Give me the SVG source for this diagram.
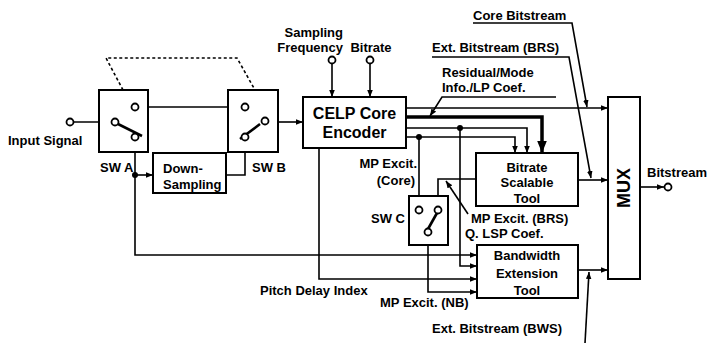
<svg xmlns="http://www.w3.org/2000/svg" width="707" height="343" viewBox="0 0 707 343">
<style>
text{font-family:"Liberation Sans",Arial,sans-serif;font-weight:bold;font-size:13px;fill:#000}
.box{fill:#fff;stroke:#000;stroke-width:2}
.ln{fill:none;stroke:#000;stroke-width:1.6}
.thick{fill:none;stroke:#000;stroke-width:3.5}
.blade{fill:none;stroke:#000;stroke-width:2.6}
.ct{fill:#fff;stroke:#000;stroke-width:1.8}
.dot{fill:#000}
.mid{text-anchor:middle}
.end{text-anchor:end}
</style>
<defs>
<marker id="ah" viewBox="0 0 10 8" refX="10" refY="4" markerWidth="7" markerHeight="6" orient="auto" markerUnits="userSpaceOnUse"><path d="M0,0 L10,4 L0,8 z"/></marker>
<marker id="big" viewBox="0 0 10 8" refX="10" refY="4" markerWidth="12" markerHeight="11" orient="auto" markerUnits="userSpaceOnUse"><path d="M0,0 L10,4 L0,8 z"/></marker>
</defs>

<g id="connectors">
<polyline class="ln" points="123,90 106,58 237,58 255,90" stroke-dasharray="3,2.5" stroke-width="2"/>
<line class="ln" x1="73.5" y1="122" x2="111" y2="122" marker-end="url(#ah)"/>
<line class="ln" x1="138.5" y1="107" x2="241" y2="107" marker-end="url(#ah)"/>
<polyline class="ln" points="135,140.5 135,255 477,255" marker-end="url(#ah)"/>
<line class="ln" x1="135" y1="175" x2="153" y2="175" marker-end="url(#ah)"/>
<polyline class="ln" points="226,175 245,175 245,141" marker-end="url(#ah)"/>
<line class="ln" x1="278" y1="122" x2="303" y2="122" marker-end="url(#ah)"/>
<line class="ln" x1="332" y1="63.5" x2="332" y2="97" marker-end="url(#ah)"/>
<line class="ln" x1="370" y1="63.5" x2="370" y2="97" marker-end="url(#ah)"/>
<line class="ln" x1="406" y1="108" x2="608" y2="108" marker-end="url(#ah)"/>
<polyline class="thick" points="406,117 542,117 542,153" marker-end="url(#big)"/>
<polyline class="ln" points="406,128 527,128 527,153" marker-end="url(#ah)"/>
<polyline class="ln" points="406,137 515,137 515,153" marker-end="url(#ah)"/>
<polyline class="ln" points="460,128 460,266 477,266" marker-end="url(#ah)"/>
<line class="ln" x1="419" y1="137" x2="419" y2="206" marker-end="url(#ah)"/>
<polyline class="ln" points="476,179 438,179 438,206" marker-end="url(#ah)"/>
<polyline class="ln" points="428,235.5 428,292 477,292" marker-end="url(#ah)"/>
<polyline class="ln" points="319,148 319,279 477,279" marker-end="url(#ah)"/>
<line class="ln" x1="578" y1="180" x2="608" y2="180" marker-end="url(#ah)"/>
<line class="ln" x1="578" y1="270" x2="608" y2="270" marker-end="url(#ah)"/>
<line class="ln" x1="640" y1="187" x2="664" y2="187" marker-end="url(#ah)"/>
<polyline class="ln" points="473,23 572,23 587,107" marker-end="url(#ah)"/>
<polyline class="ln" points="432,57 569,57 591,178" marker-end="url(#ah)"/>
<polyline class="ln" points="556,97 442,97 430,116" marker-end="url(#ah)"/>
<line class="ln" x1="468" y1="214" x2="446" y2="181" marker-end="url(#ah)"/>
<line class="ln" x1="585" y1="343" x2="589" y2="272" marker-end="url(#ah)"/>
<circle class="dot" cx="135" cy="175" r="3"/>
<circle class="dot" cx="460" cy="128" r="3"/>
<circle class="dot" cx="419" cy="137" r="3"/>
</g>

<g id="input">
<circle class="ct" cx="70" cy="122" r="3.5"/>
<text x="8" y="145">Input Signal</text>
</g>

<g id="swA">
<rect class="box" x="99" y="90" width="49" height="62"/>
<line class="blade" x1="118" y1="124" x2="142" y2="136"/>
<circle class="ct" cx="115" cy="122" r="3.5"/>
<circle class="ct" cx="135" cy="107" r="3.5"/>
<circle class="ct" cx="135" cy="137" r="3.5"/>
<text x="100" y="172">SW A</text>
</g>

<g id="downsampling">
<rect class="box" x="153" y="153" width="73" height="40"/>
<text x="163" y="173">Down-</text>
<text x="163" y="189">Sampling</text>
</g>

<g id="swB">
<rect class="box" x="228" y="90" width="50" height="62"/>
<line class="blade" x1="240" y1="139" x2="260" y2="124"/>
<circle class="ct" cx="245" cy="107" r="3.5"/>
<circle class="ct" cx="265" cy="121" r="3.5"/>
<circle class="ct" cx="245" cy="137" r="3.5"/>
<text x="252" y="172">SW B</text>
</g>

<g id="params">
<text class="end" x="343" y="37">Sampling</text>
<text class="end" x="343" y="52">Frequency</text>
<text class="mid" x="371" y="52">Bitrate</text>
<circle class="ct" cx="332" cy="60" r="3.5"/>
<circle class="ct" cx="370" cy="60" r="3.5"/>
</g>

<g id="celp">
<rect class="box" x="303" y="97" width="103" height="51"/>
<text class="mid" x="354.5" y="119" style="font-size:16px">CELP Core</text>
<text class="mid" x="354.5" y="138" style="font-size:16px">Encoder</text>
</g>

<g id="labels">
<text x="473" y="20">Core Bitstream</text>
<text x="432" y="52">Ext. Bitstream (BRS)</text>
<text x="442" y="77">Residual/Mode</text>
<text x="442" y="92">Info./LP Coef.</text>
<text class="end" x="417" y="168">MP Excit.</text>
<text class="end" x="415" y="185">(Core)</text>
<text x="471" y="223">MP Excit. (BRS)</text>
<text x="465" y="238">Q. LSP Coef.</text>
<text x="260" y="295">Pitch Delay Index</text>
<text x="380" y="307">MP Excit. (NB)</text>
<text x="432" y="333">Ext. Bitstream (BWS)</text>
</g>

<g id="swC">
<rect class="box" x="409" y="196" width="39" height="49"/>
<line class="blade" x1="428" y1="229" x2="437" y2="213"/>
<circle class="ct" cx="419" cy="210" r="3.5"/>
<circle class="ct" cx="438" cy="210" r="3.5"/>
<circle class="ct" cx="428" cy="232" r="3.5"/>
<text class="end" x="405" y="223">SW C</text>
</g>

<g id="bitrateScalable">
<rect class="box" x="476" y="153" width="102" height="53"/>
<text class="mid" x="527" y="172">Bitrate</text>
<text class="mid" x="527" y="187">Scalable</text>
<text class="mid" x="527" y="203">Tool</text>
</g>

<g id="bandwidthExt">
<rect class="box" x="477" y="245" width="101" height="53"/>
<text class="mid" x="527" y="260">Bandwidth</text>
<text class="mid" x="527" y="278">Extension</text>
<text class="mid" x="527" y="295">Tool</text>
</g>

<g id="mux">
<rect class="box" x="608" y="97" width="32" height="182"/>
<text class="mid" transform="translate(630,188) rotate(-90)" style="font-size:18px">MUX</text>
</g>

<g id="output">
<circle class="ct" cx="668" cy="187" r="3.5"/>
<text x="647" y="177">Bitstream</text>
</g>
</svg>
